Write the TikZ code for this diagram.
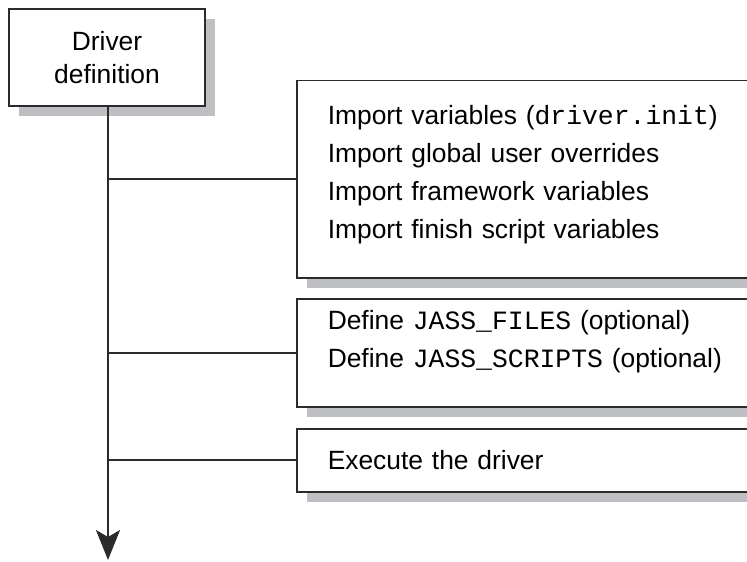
\documentclass[tikz,border=0pt]{standalone}
\usepackage{fontspec}
\setmainfont{Liberation Sans}
\setmonofont{Liberation Mono}
\usetikzlibrary{arrows.meta,shadows,positioning}
\definecolor{mline}{HTML}{2B2B2B}
\definecolor{mshadow}{HTML}{BEBFC3}
\newcommand{\lift}[1]{\rule[-#1]{0pt}{0pt}}
\tikzstyle{l2}=[line width=1.2pt, draw=mline]
\tikzstyle{boxshadow}=[drop shadow={shadow xshift=5pt, shadow yshift=-5pt, fill=mshadow, opacity=1}]
\tikzstyle{head}=[rectangle, draw=mline, line width=0.75pt, fill=white, boxshadow, minimum width=98pt, minimum height=48.5pt, inner sep=0pt, align=center, font=\fontsize{13.2}{16.5}\selectfont]
\tikzstyle{stepbox}=[rectangle, draw=mline, line width=0.75pt, fill=white, boxshadow, anchor=north west, text width=220pt, inner xsep=15.5pt, inner ysep=0pt, align=left, font=\fontsize{13.2}{19}\selectfont]

\begin{document}
\begin{tikzpicture}[x=0.5pt, y=-0.5pt]

    \clip (0,0) rectangle (747,561);

    \node[head] (drv) at (107,57.5) {Driver\\definition};

    \node[stepbox, minimum height=98.5pt] (imp) at (296,80) {Import variables (\texttt{driver.init})\\Import global user overrides\\Import framework variables\\Import finish script variables\lift{7.8pt}};
    \node[stepbox, minimum height=54pt] (def) at (296,298) {Define \texttt{JASS\_FILES} (optional)\\Define \texttt{JASS\_SCRIPTS} (optional)\lift{13.8pt}};
    \node[stepbox, minimum height=31.5pt] (exe) at (296,428) {Execute the driver};

    \coordinate (end) at (108,560);
    \draw[l2, -{Stealth[length=15pt, width=12pt, inset=3.5pt]}] (drv.south -| end) -- (end);

    \foreach \b in {imp,def,exe}{
            \draw[l2] (end |- \b.west) -- (\b.west);
        }

\end{tikzpicture}
\end{document}
